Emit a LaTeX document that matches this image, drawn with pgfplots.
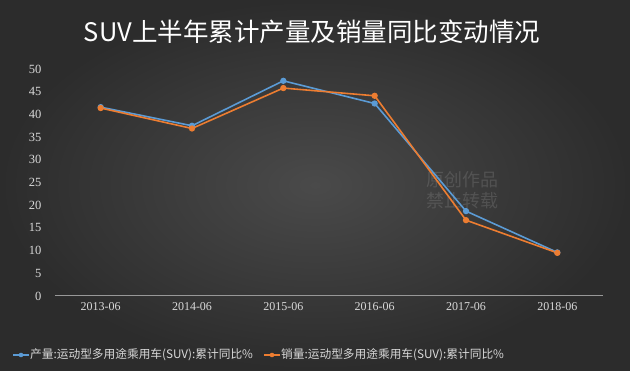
\documentclass[border=0pt]{standalone}
\usepackage{pgfplots}
\pgfplotsset{compat=1.18}
\usepackage{fontspec}
\setmainfont{Liberation Serif}
\newfontfamily\cjk{Noto Sans CJK SC}
\definecolor{bgin}{HTML}{4A4A4A}
\definecolor{bgout}{HTML}{2C2C2C}
\definecolor{sblue}{HTML}{5B9BD5}
\definecolor{sorange}{HTML}{ED7D31}
\definecolor{txt}{HTML}{D9D9D9}
\definecolor{gridc}{HTML}{606060}
\begin{document}
\begin{tikzpicture}[x=1pt,y=1pt]
\shade[inner color=bgin, outer color=bgout] (0,0) rectangle (630,370);
\node[text=white, font=\cjk\fontsize{25.5}{29}\selectfont] at (312,338) {SUV上半年累计产量及销量同比变动情况};
\node[text=white, font=\cjk\fontsize{18}{21}\selectfont, opacity=0.12, align=left] at (462,180) {原创作品\\禁止转载};
\begin{axis}[
  at={(55pt,74pt)}, anchor=south west,
  scale only axis, width=548pt, height=227pt,
  xmin=-0.5, xmax=5.5, ymin=0, ymax=50,
  xtick={0,1,2,3,4,5},
  xticklabels={2013-06,2014-06,2015-06,2016-06,2017-06,2018-06},
  ytick={0,5,...,50},
  axis x line*=bottom, axis y line=none,
  hide y axis,
  x axis line style={draw=txt!70!black, line width=1pt, -},
  xtick style={draw=none},
  ymajorgrids, grid style={draw=gridc, line width=0.6pt},
  ticklabel style={text=txt, font=\fontsize{12}{14}\selectfont},
  /pgf/number format/assume math mode=true,
  xticklabel style={yshift=-3pt},
  clip=false,
]
\addplot[sblue, line width=1.6pt, mark=*, mark size=2.3pt] coordinates {
(0,41.6) (1,37.5) (2,47.4) (3,42.4) (4,18.7) (5,9.6)};
\addplot[sorange, line width=1.6pt, mark=*, mark size=2.3pt] coordinates {
(0,41.4) (1,36.9) (2,45.8) (3,44.1) (4,16.7) (5,9.5)};
\end{axis}
\foreach \v in {0,5,...,50} {
  \node[anchor=east, text=txt, font=\fontsize{12.5}{14}\selectfont] at (45, 74+\v*4.54) {\v};
}
\draw[sblue, line width=1.6pt] (13,15) -- (29,15);
\fill[sblue] (21,15) circle (2.3);
\node[anchor=west, text=txt, font=\cjk\fontsize{11.7}{13}\selectfont, inner sep=1pt] at (29,15) {产量:运动型多用途乘用车(SUV):累计同比\%};
\draw[sorange, line width=1.6pt] (264,15) -- (280,15);
\fill[sorange] (272,15) circle (2.3);
\node[anchor=west, text=txt, font=\cjk\fontsize{11.7}{13}\selectfont, inner sep=1pt] at (280,15) {销量:运动型多用途乘用车(SUV):累计同比\%};
\end{tikzpicture}
\end{document}
